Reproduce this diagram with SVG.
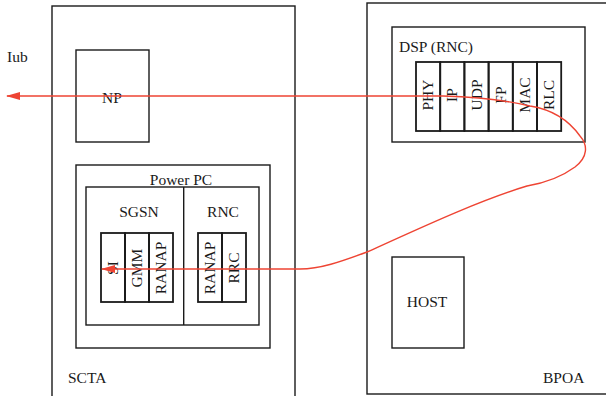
<svg xmlns="http://www.w3.org/2000/svg" width="606" height="396" viewBox="0 0 606 396">
<style>
.box{fill:none;stroke:#1a1a1a;stroke-width:1.4}
.col{fill:none;stroke:#1a1a1a;stroke-width:1.8}
text{font-family:"Liberation Serif","DejaVu Serif",serif;font-size:15.5px;fill:#1a1a1a}
.m{text-anchor:middle}
.flow{fill:none;stroke:#ee4433;stroke-width:1.4}
</style>
<defs>
<marker id="ah" viewBox="0 0 14 8" refX="13" refY="4" markerWidth="14" markerHeight="8" markerUnits="userSpaceOnUse" orient="auto-start-reverse">
<path d="M0,0 L14,4 L0,8 Z" fill="#ee4433"/>
</marker>
</defs>
<rect width="606" height="396" fill="#ffffff"/>
<g id="scta">
<rect class="box" x="52" y="6" width="243" height="400"/>
<text x="68" y="383">SCTA</text>
</g>
<g id="bpoa">
<rect class="box" x="367" y="3" width="260" height="391"/>
<text x="543" y="383">BPOA</text>
</g>
<g id="iub"><text x="7" y="62">Iub</text></g>
<g id="np">
<rect class="box" x="76" y="50" width="73" height="92"/>
<text class="m" x="112" y="103">NP</text>
</g>
<g id="powerpc">
<rect class="box" x="76" y="165" width="194" height="183"/>
<text class="m" x="181" y="185">Power PC</text>
<rect class="box" x="86" y="187" width="173" height="138"/>
<line class="box" x1="183.7" y1="187" x2="183.7" y2="325"/>
</g>
<g id="sgsn">
<text class="m" x="139" y="217">SGSN</text>
<rect class="col" x="101" y="233" width="24" height="69"/>
<rect class="col" x="125" y="233" width="24" height="69"/>
<rect class="col" x="149" y="233" width="24" height="69"/>
<text class="m" transform="translate(113,268) rotate(-90)" y="5">SI</text>
<text class="m" transform="translate(137,268) rotate(-90)" y="5">GMM</text>
<text class="m" transform="translate(161,268) rotate(-90)" y="5">RANAP</text>
</g>
<g id="rnc">
<text class="m" x="223" y="217">RNC</text>
<rect class="col" x="198" y="233" width="24" height="69"/>
<rect class="col" x="222" y="233" width="24" height="69"/>
<text class="m" transform="translate(210,268) rotate(-90)" y="5">RANAP</text>
<text class="m" transform="translate(234,268) rotate(-90)" y="5">RRC</text>
</g>
<g id="dsp">
<rect class="box" x="392" y="27" width="193" height="115"/>
<text x="399" y="52">DSP (RNC)</text>
<rect class="col" x="416" y="62" width="24.2" height="69"/>
<rect class="col" x="440.2" y="62" width="24.2" height="69"/>
<rect class="col" x="464.4" y="62" width="24.2" height="69"/>
<rect class="col" x="488.6" y="62" width="24.2" height="69"/>
<rect class="col" x="512.8" y="62" width="24.2" height="69"/>
<rect class="col" x="537" y="62" width="24.2" height="69"/>
<text class="m" transform="translate(428.1,95) rotate(-90)" y="5">PHY</text>
<text class="m" transform="translate(452.3,95) rotate(-90)" y="5">IP</text>
<text class="m" transform="translate(476.5,95) rotate(-90)" y="5">UDP</text>
<text class="m" transform="translate(500.7,95) rotate(-90)" y="5">FP</text>
<text class="m" transform="translate(524.9,95) rotate(-90)" y="5">MAC</text>
<text class="m" transform="translate(549.1,95) rotate(-90)" y="5">RLC</text>
</g>
<g id="host">
<rect class="box" x="392" y="257" width="72" height="91"/>
<text class="m" x="427" y="307">HOST</text>
</g>
<g id="connectors">
<path class="flow" marker-start="url(#ah)" marker-end="url(#ah)" d="M102,269 L300,269 C320,269 340,262 367,252 C420,228 480,200 527,186 C545,183 560,178 575,167 C588,157 588,145 580,136 C570,122 555,110 530,106 C505,100 480,97 443,96 L7,96"/>
</g>
</svg>
